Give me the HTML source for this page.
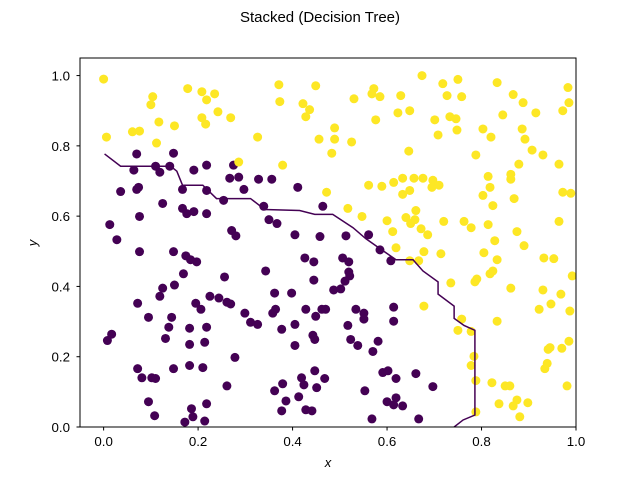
<!DOCTYPE html>
<html><head><meta charset="utf-8"><style>
html,body{margin:0;padding:0;background:#fff;}
svg{display:block;font-family:"Liberation Sans",sans-serif;}
</style></head><body>
<svg id="chart" width="640" height="480" viewBox="0 0 640 480" xmlns="http://www.w3.org/2000/svg">
<rect width="640" height="480" fill="#fff"/>
<text x="320" y="22" text-anchor="middle" font-size="15">Stacked (Decision Tree)</text>
<g id="marks"></g>
<rect x="80" y="58" width="496" height="369" fill="none" stroke="#000" stroke-width="1"/>
<g id="axes"></g>
<text x="328" y="467" text-anchor="middle" font-size="13" font-style="italic">x</text>
<text x="37" y="243" text-anchor="middle" font-size="13" font-style="italic" transform="rotate(-90 37 243)">y</text>
</svg>
<script>
const xTicks=[0.0,0.2,0.4,0.6,0.8,1.0];
const yTicks=[0.0,0.2,0.4,0.6,0.8,1.0];
const xTickLabels=["0.0","0.2","0.4","0.6","0.8","1.0"];
const yTickLabels=["0.0","0.2","0.4","0.6","0.8","1.0"];
const class1X=[0.00,0.104,0.100,0.178,0.208,0.218,0.235,0.242,0.208,0.216,0.269,0.117,0.150,0.061,0.076,0.006,0.112,0.326,0.371,0.373,0.422,0.436,0.428,0.449,0.456,0.379,0.286,0.472,
0.674,0.718,0.750,0.833,0.983,0.572,0.568,0.585,0.530,0.629,0.727,0.758,0.867,0.888,0.985,0.915,0.972,0.623,0.648,0.576,0.701,0.733,0.746,0.845,0.489,0.803,0.886,0.708,0.748,0.820,0.892,0.489,0.525,0.646,0.483,0.788,0.907,0.930,0.964,0.879,0.814,0.862,0.862,0.818,0.803,0.824,0.869,0.972,0.989,0.561,0.589,0.614,0.633,0.657,0.676,0.697,0.695,0.710,0.648,0.633,0.517,0.547,0.600,0.612,0.640,0.661,0.659,0.650,0.672,0.686,0.720,0.763,0.778,0.814,0.875,0.964,0.828,
0.619,0.678,0.714,0.805,0.833,0.890,0.932,0.953,0.992,0.648,0.667,0.735,0.786,0.790,0.818,0.824,0.862,0.930,0.968,0.922,0.947,0.987,0.678,0.758,0.750,0.778,0.833,0.985,0.970,0.941,0.945,0.939,0.934,0.784,0.778,0.788,0.822,0.850,0.860,0.981,0.875,0.898,0.867,0.837,0.881,0.788];
const class1Y=[0.99,0.940,0.917,0.963,0.954,0.931,0.948,0.897,0.880,0.862,0.880,0.868,0.857,0.840,0.842,0.825,0.808,0.825,0.974,0.926,0.920,0.903,0.883,0.971,0.819,0.745,0.754,0.668,
1.0,0.977,0.989,0.980,0.966,0.963,0.948,0.940,0.934,0.943,0.943,0.940,0.946,0.923,0.923,0.894,0.900,0.894,0.900,0.874,0.874,0.883,0.877,0.888,0.851,0.848,0.848,0.831,0.845,0.825,0.819,0.819,0.811,0.785,0.779,0.774,0.788,0.774,0.748,0.748,0.713,0.719,0.705,0.682,0.659,0.630,0.650,0.668,0.665,0.688,0.685,0.696,0.708,0.708,0.708,0.702,0.682,0.688,0.673,0.662,0.622,0.599,0.587,0.556,0.596,0.616,0.590,0.579,0.564,0.547,0.585,0.585,0.567,0.576,0.556,0.585,0.530,
0.510,0.499,0.493,0.496,0.476,0.516,0.481,0.479,0.430,0.473,0.473,0.410,0.413,0.421,0.436,0.444,0.395,0.390,0.378,0.335,0.350,0.330,0.344,0.307,0.275,0.272,0.301,0.244,0.224,0.221,0.226,0.181,0.166,0.201,0.175,0.132,0.126,0.117,0.117,0.117,0.077,0.069,0.060,0.066,0.029,0.043];
const class0X=[0.070,0.148,0.064,0.110,0.119,0.140,0.191,0.218,0.275,0.267,0.286,0.328,0.356,0.297,0.411,0.036,0.070,0.074,0.167,0.218,0.254,0.125,0.167,0.176,0.191,0.218,0.339,0.464,0.076,0.013,0.350,0.367,0.271,0.280,0.405,0.458,0.028,0.513,0.561,
0.076,0.148,0.174,0.184,0.197,0.169,0.256,0.343,0.426,0.445,0.445,0.125,0.150,0.119,0.072,0.195,0.206,0.225,0.244,0.261,0.269,0.299,0.362,0.398,0.095,0.144,0.138,0.182,0.218,0.311,0.326,0.364,0.358,0.428,0.462,0.449,0.405,0.377,0.008,0.017,0.131,0.182,0.214,0.443,0.447,0.405,0.278,0.072,0.081,0.102,0.110,0.148,0.182,0.210,0.261,0.362,0.379,0.419,0.424,0.447,0.468,0.451,0.095,0.386,0.413,0.108,0.186,0.218,0.189,0.172,0.214,0.377,0.428,0.441,
0.585,0.608,0.506,0.519,0.519,0.521,0.511,0.487,0.502,0.470,0.534,0.551,0.551,0.517,0.614,0.614,0.523,0.538,0.581,0.570,0.591,0.602,0.619,0.661,0.697,0.553,0.600,0.619,0.614,0.633,0.568,0.667];
const class0Y=[0.777,0.779,0.731,0.742,0.725,0.742,0.731,0.745,0.745,0.708,0.711,0.705,0.705,0.676,0.682,0.670,0.676,0.682,0.676,0.673,0.645,0.636,0.622,0.607,0.613,0.607,0.628,0.628,0.599,0.576,0.590,0.579,0.559,0.544,0.547,0.542,0.533,0.544,0.547,
0.499,0.499,0.487,0.476,0.470,0.436,0.427,0.444,0.481,0.470,0.418,0.395,0.404,0.372,0.352,0.352,0.335,0.372,0.367,0.355,0.350,0.324,0.381,0.381,0.312,0.312,0.284,0.281,0.284,0.298,0.292,0.335,0.324,0.335,0.335,0.315,0.292,0.278,0.246,0.264,0.252,0.235,0.241,0.261,0.249,0.232,0.198,0.166,0.140,0.140,0.138,0.166,0.175,0.169,0.117,0.103,0.123,0.140,0.120,0.160,0.138,0.112,0.072,0.074,0.086,0.032,0.052,0.066,0.029,0.014,0.017,0.046,0.049,0.046,
0.504,0.473,0.481,0.470,0.441,0.430,0.415,0.390,0.393,0.335,0.335,0.324,0.307,0.289,0.341,0.301,0.249,0.232,0.244,0.215,0.155,0.160,0.138,0.152,0.115,0.103,0.072,0.083,0.063,0.060,0.023,0.023];
const boundaryX=[0.002,0.036,0.142,0.155,0.167,0.210,0.239,0.311,0.341,0.415,0.447,0.485,0.528,0.555,0.576,0.619,0.655,0.676,0.708,0.708,0.742,0.742,0.763,0.786,0.786,0.761,0.742];
const boundaryY=[0.777,0.742,0.742,0.728,0.688,0.688,0.650,0.650,0.619,0.616,0.605,0.605,0.567,0.536,0.516,0.476,0.476,0.444,0.413,0.378,0.344,0.309,0.289,0.275,0.034,0.020,0.0];

const X0=-0.05,X1=1.0,Y0=0,Y1=1.05,PL=80,PR=576,PT=58,PB=427;
function sx(v){return PL+(v-X0)/(X1-X0)*(PR-PL);}
function sy(v){return PB-(v-Y0)/(Y1-Y0)*(PB-PT);}
const NS="http://www.w3.org/2000/svg";
const marks=document.getElementById('marks'),axes=document.getElementById('axes');
function mk(tag,attrs,parent){const e=document.createElementNS(NS,tag);for(const k in attrs)e.setAttribute(k,attrs[k]);parent.appendChild(e);return e;}
const cp=mk('clipPath',{id:'clip'},marks);mk('rect',{x:PL,y:PT,width:PR-PL,height:PB-PT},cp);
const g=mk('g',{'clip-path':'url(#clip)'},marks);
class0X.forEach((v,i)=>{const c=mk('circle',{cx:sx(v),cy:sy(class0Y[i]),r:4.5,fill:'#440154'},g);

});
class1X.forEach((v,i)=>{const c=mk('circle',{cx:sx(v),cy:sy(class1Y[i]),r:4.5,fill:'#fde725'},g);

});
const pts=boundaryX.map((v,i)=>sx(v)+','+sy(boundaryY[i])).join(' ');
const pl=mk('polyline',{points:pts,fill:'none',stroke:'#440154','stroke-width':1.5},g);


xTicks.forEach((v,i)=>{const x=sx(v);mk('line',{x1:x,x2:x,y1:PB,y2:PB+3.5,stroke:'#000'},axes);
const t=mk('text',{x:x,y:PB+19,'text-anchor':'middle','font-size':13.3},axes);t.textContent=xTickLabels[i];

});
yTicks.forEach((v,i)=>{const y=sy(v);mk('line',{x1:PL-3.5,x2:PL,y1:y,y2:y,stroke:'#000'},axes);
const t=mk('text',{x:PL-10,y:y+5,'text-anchor':'end','font-size':13.3},axes);t.textContent=yTickLabels[i];

});
</script>
</body></html>
